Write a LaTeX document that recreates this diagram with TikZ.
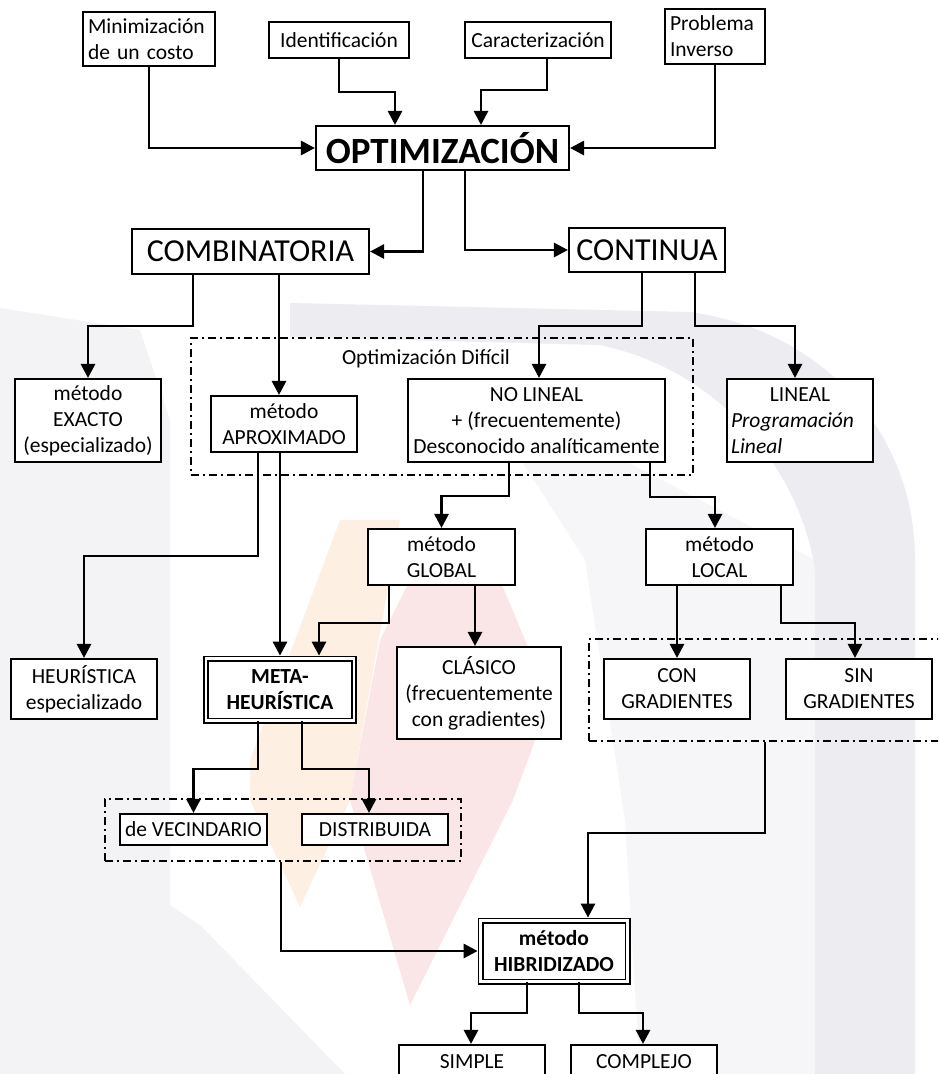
\documentclass[tikz,border=0pt]{standalone}
\usepackage{fontspec}
\setmainfont{Carlito}
\usetikzlibrary{arrows.meta}
\definecolor{wmgray}{RGB}{243,243,246}
\definecolor{wmgrayband}{RGB}{236,236,241}
\definecolor{wmlight}{RGB}{246,246,248}
\definecolor{wmorange}{RGB}{253,240,226}
\definecolor{wmpink}{RGB}{250,229,231}
\begin{document}
\begin{tikzpicture}[x=1pt,y=-1pt,
  box/.style={draw, line width=2.1pt, fill=white, inner sep=0pt, align=center,
    font=\fontsize{21.5}{26}\selectfont},
  dbox/.style={box, double, double distance=2.4pt, line width=1.8pt,
    font=\bfseries\fontsize{21.5}{26}\selectfont},
  group/.style={draw, line width=1.8pt, dash pattern=on 8pt off 4pt on 2pt off 4pt},
  arr/.style={line width=2.8pt, -{Triangle[width=14pt,length=14pt]}},
  txt/.style={inner sep=0pt, font=\fontsize{21.5}{26}\selectfont},
]
\useasboundingbox (0,0) rectangle (938,1074);
\clip (0,0) rectangle (938,1074);
\fill[white] (0,0) rectangle (938,1074);

% faint background emblem
\fill[wmgray] (0,308) -- (140,330) -- (170,420) -- (170,905) -- (200,925) -- (345,1074) -- (0,1074) -- cycle;
\fill[wmlight] (470,380) -- (815,560) -- (815,1074) -- (640,1074) -- (625,820) -- (585,560) -- cycle;
\fill[wmgrayband] (290,303) -- (690,312) .. controls (820,330) and (915,430) .. (915,560)
  -- (915,1074) -- (815,1074) -- (815,570) .. controls (800,470) and (720,370) .. (600,345)
  -- (290,337) -- cycle;
\fill[wmorange] (340,520) -- (400,520) -- (350,800) -- (300,907) -- (250,800) -- (250,760) -- cycle;
\fill[wmpink] (420,560) -- (500,580) -- (550,700) -- (513,800) -- (410,1005) -- (350,800) -- (380,640) -- cycle;

% dashed groupings
\node[group, minimum width=502, minimum height=137] (gDif) at (442,406.5) {};
\node[txt] (difLabel) at (426,359) {Optimización Difícil};
\node[group, minimum width=361, minimum height=102] (gLocal) at (769.5,690) {};
\node[group, minimum width=356, minimum height=62] (gMeta) at (283,830) {};

% top row
\node[box, minimum width=132, minimum height=54, text width=122, align=left] (mini) at (149,39) {Minimización\\de un costo};
\node[box, minimum width=140, minimum height=36] (ident) at (339,40) {Identificación};
\node[box, minimum width=146, minimum height=36] (carac) at (538,40) {Caracterización};
\node[box, minimum width=100, minimum height=55, text width=90, align=left] (prob) at (715,36.5) {Problema\\Inverso};

\node[box, minimum width=253, minimum height=44, font=\bfseries\fontsize{37}{42}\selectfont] (opt) at (442.5,148) {OPTIMIZACIÓN};
\node[box, minimum width=237, minimum height=45, font=\fontsize{32}{38}\selectfont] (comb) at (250.5,251.5) {COMBINATORIA};
\node[box, minimum width=156, minimum height=44, font=\fontsize{32}{38}\selectfont] (cont) at (647,250) {CONTINUA};

% second level
\node[box, minimum width=146, minimum height=83] (exacto) at (88,420.5) {método\\EXACTO\\(especializado)};
\node[box, minimum width=146, minimum height=56] (aprox) at (284,424) {método\\APROXIMADO};
\node[box, minimum width=257, minimum height=83] (nolin) at (536.5,420.5) {NO LINEAL\\+ (frecuentemente)\\Desconocido analíticamente};
\node[box, minimum width=146, minimum height=83, text width=138, align=left] (lineal) at (800,420.5)
  {\makebox[138pt]{LINEAL}\\\textit{Programación}\\\textit{Lineal}};

% methods
\node[box, minimum width=147, minimum height=56] (global) at (441.5,557) {método\\GLOBAL};
\node[box, minimum width=147, minimum height=56] (local) at (719.5,557) {método\\LOCAL};

\node[box, minimum width=146, minimum height=60] (heur) at (84,689) {HEURÍSTICA\\especializado};
\node[dbox, minimum width=148, minimum height=62] (meta) at (280,689.5) {META-\\HEURÍSTICA};
\node[box, minimum width=164, minimum height=92] (clasico) at (479,693) {CLÁSICO\\(frecuentemente\\con gradientes)};
\node[box, minimum width=146, minimum height=60] (con) at (677,689) {CON\\GRADIENTES};
\node[box, minimum width=146, minimum height=60] (sin) at (859,689) {SIN\\GRADIENTES};

\node[box, minimum width=147, minimum height=31] (vec) at (193.5,829.5) {de VECINDARIO};
\node[box, minimum width=146, minimum height=31] (dist) at (375,829.5) {DISTRIBUIDA};

\node[dbox, minimum width=147, minimum height=61] (hib) at (554,951) {método\\HIBRIDIZADO};
\node[box, minimum width=146, minimum height=34] (simple) at (472,1062) {SIMPLE};
\node[box, minimum width=146, minimum height=34] (complejo) at (644,1062) {COMPLEJO};

% connectors
\draw[arr] (mini.south) |- (opt.west);
\draw[arr] (ident.south) -- ++(0,33) -| ([xshift=-47.5pt]opt.north);
\draw[arr] ([xshift=9pt]carac.south) -- ++(0,31) -| ([xshift=38.5pt]opt.north);
\draw[arr] (prob.south) |- (opt.east);

\draw[arr] ([xshift=-19.5pt]opt.south) |- (comb.east);
\draw[arr] ([xshift=22.5pt]opt.south) |- (cont.west);

\draw[arr] ([xshift=-57.5pt]comb.south) -- ++(0,51) -| (exacto.north);
\draw[arr] ([xshift=28.5pt]comb.south) -- ([xshift=-5pt]aprox.north);
\draw[arr] ([xshift=-5pt]cont.south) -- ++(0,53) -| ([xshift=2.5pt]nolin.north);
\draw[arr] ([xshift=48pt]cont.south) -- ++(0,53) -| ([xshift=-5pt]lineal.north);

\draw[arr] ([xshift=-27.5pt]nolin.south) -- ++(0,33) -| (global.north);
\draw[arr] ([xshift=113.5pt]nolin.south) -- ++(0,34) -| ([xshift=-4.5pt]local.north);

\draw[arr] ([xshift=-26pt]aprox.south) -- ++(0,103) -| (heur.north);
\draw[arr, shorten >=2pt] ([xshift=-4pt]aprox.south) -- (meta.north);
\draw[arr, shorten >=2pt] ([xshift=-52.5pt]global.south) -- ++(0,37) -| ([xshift=39pt]meta.north);
\draw[arr] ([xshift=33.5pt]global.south) -- ([xshift=-4pt]clasico.north);

\draw[arr] ([xshift=-42.5pt]local.south) -- (con.north);
\draw[arr] ([xshift=61.5pt]local.south) -- ++(0,37) -| ([xshift=-4pt]sin.north);

\draw[arr] ([xshift=-22pt]meta.south) -- ++(0,47.5) -| (vec.north);
\draw[arr] ([xshift=22pt]meta.south) -- ++(0,47.5) -| ([xshift=-6pt]dist.north);

\draw[arr, shorten >=2pt] ([xshift=-4.5pt]gLocal.south) -- ++(0,91) -| ([xshift=34pt]hib.north);
\draw[arr, shorten >=2pt] ([xshift=-2pt]gMeta.south) |- (hib.west);

\draw[arr] ([xshift=-27pt]hib.south) -- ++(0,30.5) -| ([xshift=-1pt]simple.north);
\draw[arr] ([xshift=25pt]hib.south) -- ++(0,30.5) -| ([xshift=-1pt]complejo.north);
\end{tikzpicture}
\end{document}
